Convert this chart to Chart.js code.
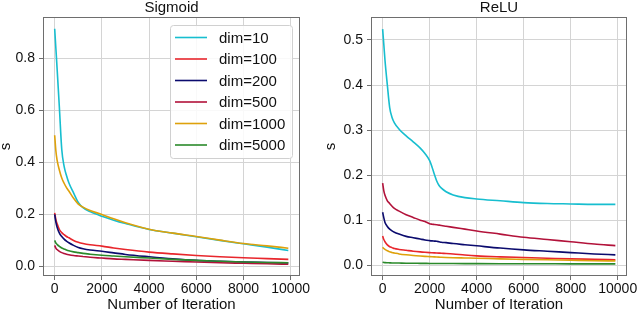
<!DOCTYPE html>
<html>
<head>
<meta charset="utf-8">
<script src="https://cdn.jsdelivr.net/npm/chart.js@4.4.1/dist/chart.umd.min.js"></script>
<style>
  html, body { margin: 0; padding: 0; background: #fff; }
  #wrap { position: relative; width: 640px; height: 312px; }
  #wrap canvas { position: absolute; top: 0; }
</style>
</head>
<body>
<div id="wrap">
  <canvas id="sigmoidChart" width="320" height="312" style="left:0"></canvas>
  <canvas id="reluChart" width="320" height="312" style="left:320px"></canvas>
</div>
<script>
// series labels and colours (shared by both panels)
const dimLabels = ['dim=10', 'dim=100', 'dim=200', 'dim=500', 'dim=1000', 'dim=5000'];
const dimColors = ['#17becf', '#e8262c', '#0b0b6e', '#b2123a', '#dea10b', '#2b8a2b'];

// Sigmoid panel
const sigmoidIters = [0, 50, 100, 200, 300, 400, 500, 600, 800, 1000, 1200, 1500, 2000, 2500, 3000, 4000, 5000, 6000, 7000, 8000, 9000, 9900];
const sigDim10   = [0.915, 0.84, 0.765, 0.61, 0.45, 0.385, 0.35, 0.322, 0.283, 0.246, 0.226, 0.211, 0.193, 0.178, 0.165, 0.142, 0.128, 0.114, 0.100, 0.087, 0.074, 0.061];
const sigDim100  = [0.206, 0.18, 0.165, 0.142, 0.13, 0.122, 0.115, 0.11, 0.10, 0.093, 0.088, 0.083, 0.078, 0.071, 0.065, 0.055, 0.048, 0.042, 0.037, 0.033, 0.030, 0.027];
const sigDim200  = [0.200, 0.17, 0.152, 0.128, 0.115, 0.105, 0.097, 0.091, 0.081, 0.073, 0.068, 0.063, 0.058, 0.052, 0.046, 0.037, 0.029, 0.023, 0.020, 0.017, 0.015, 0.013];
const sigDim500  = [0.081, 0.07, 0.065, 0.058, 0.053, 0.05, 0.047, 0.045, 0.042, 0.040, 0.038, 0.035, 0.032, 0.029, 0.027, 0.023, 0.020, 0.017, 0.014, 0.012, 0.010, 0.008];
const sigDim1000 = [0.505, 0.445, 0.41, 0.37, 0.34, 0.32, 0.303, 0.29, 0.262, 0.24, 0.228, 0.215, 0.200, 0.183, 0.168, 0.143, 0.128, 0.115, 0.101, 0.088, 0.079, 0.070];
const sigDim5000 = [0.100, 0.09, 0.085, 0.077, 0.071, 0.067, 0.063, 0.06, 0.056, 0.053, 0.050, 0.047, 0.043, 0.040, 0.037, 0.032, 0.027, 0.023, 0.020, 0.017, 0.015, 0.014];
const sigmoidTicksY = [0, 0.2, 0.4, 0.6, 0.8];

// ReLU panel
const reluIters = [0, 50, 100, 200, 300, 400, 500, 700, 1000, 1300, 1600, 1800, 2000, 2100, 2200, 2300, 2400, 2500, 2700, 3000, 3500, 4000, 5000, 6000, 7000, 8000, 9000, 9900];
const reluDim10   = [0.524, 0.49, 0.455, 0.40, 0.35, 0.328, 0.316, 0.302, 0.287, 0.274, 0.26, 0.248, 0.232, 0.218, 0.202, 0.187, 0.177, 0.171, 0.163, 0.156, 0.150, 0.147, 0.143, 0.139, 0.137, 0.136, 0.135, 0.135];
const reluDim100  = [0.065, 0.057, 0.052, 0.045, 0.041, 0.039, 0.037, 0.035, 0.033, 0.031, 0.0295, 0.0287, 0.028, 0.0277, 0.0274, 0.0271, 0.0268, 0.0265, 0.026, 0.025, 0.0225, 0.0206, 0.0185, 0.017, 0.0155, 0.014, 0.013, 0.012];
const reluDim200  = [0.1175, 0.105, 0.095, 0.086, 0.08, 0.076, 0.073, 0.069, 0.064, 0.061, 0.058, 0.056, 0.0546, 0.054, 0.0535, 0.053, 0.052, 0.051, 0.050, 0.048, 0.0455, 0.043, 0.038, 0.034, 0.031, 0.028, 0.025, 0.023];
const reluDim500  = [0.182, 0.165, 0.155, 0.143, 0.137, 0.131, 0.126, 0.12, 0.112, 0.106, 0.10, 0.097, 0.092, 0.091, 0.0905, 0.0898, 0.089, 0.088, 0.0865, 0.084, 0.080, 0.076, 0.069, 0.062, 0.057, 0.052, 0.047, 0.0435];
const reluDim1000 = [0.040, 0.037, 0.035, 0.032, 0.030, 0.028, 0.027, 0.025, 0.023, 0.0215, 0.0203, 0.0196, 0.019, 0.0187, 0.0184, 0.0181, 0.0178, 0.0175, 0.017, 0.0165, 0.016, 0.0155, 0.014, 0.013, 0.012, 0.011, 0.010, 0.0095];
const reluDim5000 = [0.0066, 0.006, 0.0057, 0.0054, 0.0052, 0.005, 0.0049, 0.0047, 0.0044, 0.0042, 0.0041, 0.004, 0.0039, 0.0039, 0.0038, 0.0038, 0.0038, 0.0037, 0.0037, 0.0036, 0.0035, 0.0034, 0.0033, 0.0032, 0.0031, 0.003, 0.003, 0.003];
const reluTicksY = [0, 0.1, 0.2, 0.3, 0.4, 0.5];

const iterTicks = [0, 2000, 4000, 6000, 8000, 10000];

const FONT = '"Liberation Sans", Arial, Helvetica, sans-serif';
const gridColor = '#d4d4d4';
const spineColor = '#6e6e6e';

// caixa à volta da área do gráfico (spines do matplotlib)
const framePlugin = {
    id: 'frame',
    afterDatasetsDraw(chart) {
        const { ctx, chartArea: a } = chart;
        ctx.save();
        ctx.strokeStyle = spineColor;
        ctx.lineWidth = 1;
        ctx.strokeRect(Math.round(a.left) + 0.5, Math.round(a.top) + 0.5, Math.round(a.width) - 1, Math.round(a.height) - 1);
        ctx.restore();
    }
};

// legenda com caixa, dentro do gráfico (canto superior direito)
const boxLegendPlugin = {
    id: 'boxLegend',
    afterDraw(chart, args, opts) {
        if (!opts.show) return;
        const { ctx, chartArea: a } = chart;
        const sets = chart.data.datasets;
        const w = 122, rowH = 21.5, h = sets.length * rowH + 4;
        const x = a.right - 8 - w, y = a.top + 8;
        ctx.save();
        ctx.beginPath();
        ctx.roundRect(x + 0.5, y + 0.5, w, h, 3);
        ctx.fillStyle = 'rgba(255,255,255,0.85)';
        ctx.fill();
        ctx.strokeStyle = '#d0d0d0';
        ctx.lineWidth = 1;
        ctx.stroke();
        ctx.font = '15px ' + FONT;
        ctx.textBaseline = 'middle';
        ctx.fillStyle = '#111';
        sets.forEach((ds, i) => {
            const cy = y + 12.5 + i * rowH;
            ctx.strokeStyle = ds.borderColor;
            ctx.lineWidth = 1.6;
            ctx.beginPath();
            ctx.moveTo(x + 5, cy);
            ctx.lineTo(x + 37, cy);
            ctx.stroke();
            ctx.fillText(ds.label, x + 49, cy + 1);
        });
        ctx.restore();
    }
};

function makeDatasets(iters, seriesList) {
    return seriesList.map((vals, i) => ({
        label: dimLabels[i],
        data: iters.map((it, k) => ({ x: it, y: vals[k] })),
        borderColor: dimColors[i],
        backgroundColor: dimColors[i],
        borderWidth: 1.6,
        pointRadius: 0,
        cubicInterpolationMode: 'monotone',
        order: seriesList.length - i
    }));
}

function makeChart(canvasId, title, datasets, yOpts, layout, showLegend) {
    const ctx = document.getElementById(canvasId).getContext('2d');
    return new Chart(ctx, {
        type: 'line',
        data: { datasets },
        options: {
            responsive: false,
            animation: false,
            layout: { padding: { top: 0, right: layout.right, bottom: 0, left: 0 } },
            scales: {
                x: {
                    type: 'linear',
                    min: -495,
                    max: 10395,
                    afterFit: s => { s.height = 36; },
                    afterBuildTicks: s => { s.ticks = iterTicks.map(v => ({ value: v })); },
                    ticks: { color: '#111', font: { family: FONT, size: 14 }, padding: 1, maxRotation: 0, autoSkip: false, callback: v => String(v) },
                    grid: { color: gridColor, tickLength: 4, tickColor: spineColor },
                    border: { display: false },
                    title: { display: true, text: 'Number of Iteration', color: '#111', font: { family: FONT, size: 15, lineHeight: 1 }, padding: { top: 0, bottom: 0 } }
                },
                y: {
                    min: yOpts.min,
                    max: yOpts.max,
                    afterFit: s => { s.width = layout.yWidth; },
                    afterBuildTicks: s => { s.ticks = yOpts.ticks.map(v => ({ value: v })); },
                    ticks: { color: '#111', font: { family: FONT, size: 14 }, padding: 4, callback: v => v.toFixed(1) },
                    grid: { color: gridColor, tickLength: 4, tickColor: spineColor },
                    border: { display: false },
                    title: { display: true, text: 's', color: '#111', font: { family: FONT, size: 15, lineHeight: 1 }, padding: { top: layout.sPad, bottom: 0 } }
                }
            },
            plugins: {
                legend: { display: false },
                tooltip: { enabled: false },
                title: {
                    display: true,
                    text: title,
                    fullSize: false,
                    color: '#111',
                    font: { family: FONT, size: 15, weight: 'normal', lineHeight: 1 },
                    padding: { top: 0, bottom: 2 }
                },
                boxLegend: { show: showLegend }
            }
        },
        plugins: [framePlugin, boxLegendPlugin]
    });
}

makeChart('sigmoidChart', 'Sigmoid',
    makeDatasets(sigmoidIters, [sigDim10, sigDim100, sigDim200, sigDim500, sigDim1000, sigDim5000]),
    { min: -0.037, max: 0.96, ticks: sigmoidTicksY },
    { yWidth: 43, right: 20, sPad: -2 }, true);

makeChart('reluChart', 'ReLU',
    makeDatasets(reluIters, [reluDim10, reluDim100, reluDim200, reluDim500, reluDim1000, reluDim5000]),
    { min: -0.024, max: 0.551, ticks: reluTicksY },
    { yWidth: 51, right: 13, sPad: 3.5 }, false);
</script>
</body>
</html>
